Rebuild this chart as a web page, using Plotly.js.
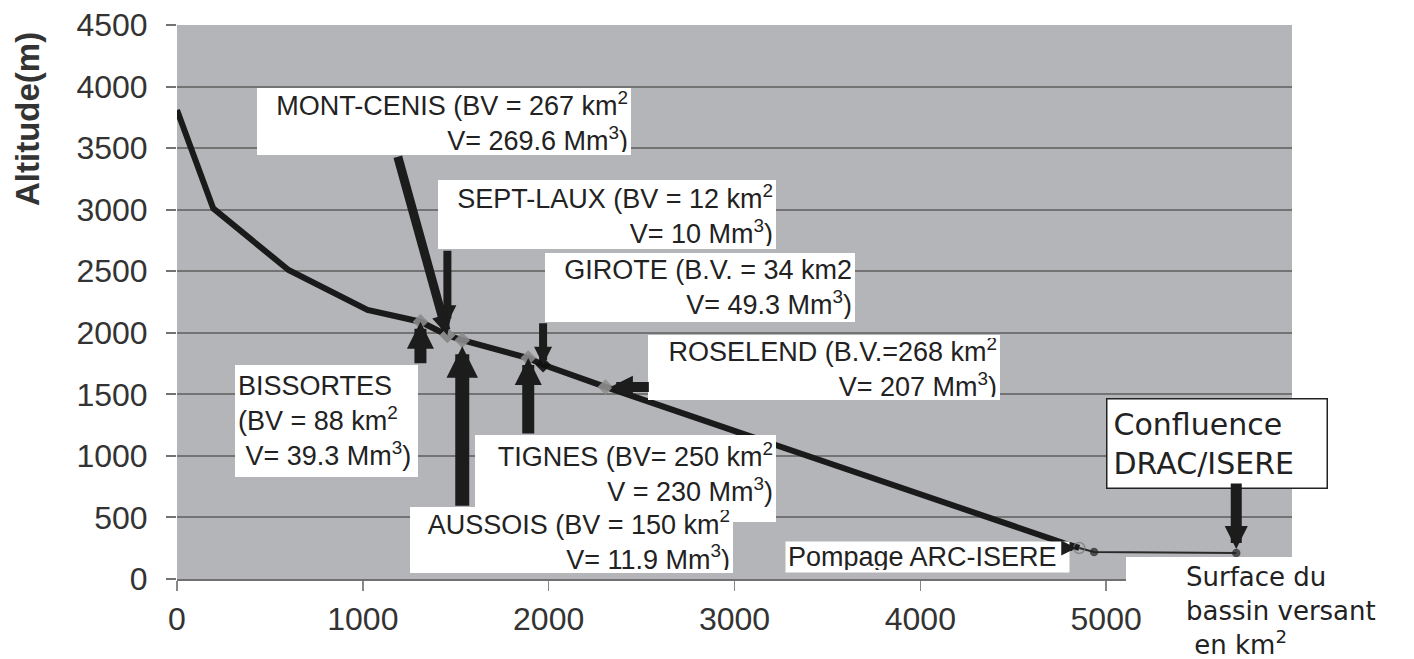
<!DOCTYPE html>
<html>
<head>
<meta charset="utf-8">
<script src="https://cdn.plot.ly/plotly-3.0.1.min.js"></script>
<style>html,body{margin:0;padding:0;background:#fff;}#chart{width:1414px;height:659px;}</style>
</head>
<body>
<div id="chart"></div>
<script>
// ---- data ----
const profileArea = [0, 195, 600, 1025, 1310, 1455, 1535, 1890, 1970, 2305, 4775, 4855];
const profileAlt  = [3810, 3010, 2510, 2185, 2090, 1980, 1940, 1795, 1740, 1560, 290, 252];
const lowerArea = [4855, 4935, 5700];
const lowerAlt  = [252, 219, 211];

const resNames = ['MONT-CENIS', 'SEPT-LAUX', 'GIROTE', 'ROSELEND', 'BISSORTES', 'TIGNES', 'AUSSOIS'];
const resArea  = [1455, 1455, 1970, 2305, 1310, 1890, 1535];
const resAlt   = [1980, 1980, 1740, 1560, 2090, 1795, 1940];
const resBV    = ['267', '12', '34', '268', '88', '250', '150'];
const resVol   = ['269.6', '10', '49.3', '207', '39.3', '230', '11.9'];

const pompageName = 'Pompage ARC-ISERE';
const pompageArea = 4855, pompageAlt = 252;
const confluenceName = 'Confluence<br>DRAC/ISERE';
const confluenceArea = 5700, confluenceAlt = 211;

const xTicks = [0, 1000, 2000, 3000, 4000, 5000];
const yTicks = [0, 500, 1000, 1500, 2000, 2500, 3000, 3500, 4000, 4500];
const yTitle = 'Altitude(m)';
const xTitle = 'Surface du<br>bassin versant<br> en km<sup>2</sup>';

// ---- label formatting ----
const sep     = [' ', ' ', ' ', ' ', '<br>', ' ', ' '];
const bvPre   = ['(BV = ', '(BV = ', '(B.V. = ', '(B.V.=', '(BV = ', '(BV= ', '(BV = '];
const kmSuf   = [' km<sup>2</sup>', ' km<sup>2</sup>', ' km2', ' km<sup>2</sup>', ' km<sup>2</sup>', ' km<sup>2</sup>', ' km<sup>2</sup>'];
const volPre  = ['V= ', 'V= ', 'V= ', 'V= ', ' V= ', 'V = ', 'V= '];
const labels = resNames.map((n, i) => n + sep[i] + bvPre[i] + resBV[i] + kmSuf[i] + '<br>' + volPre[i] + resVol[i] + ' Mm<sup>3</sup>)');

// ---- layout helpers (pixel boxes -> paper) ----
const L = 177, R = 1292, T = 25, B = 579;
const px = v => (v - L) / (R - L);
const py = v => (B - v) / (B - T);
const FONT = 'Liberation Sans, Arial, sans-serif';
const WIDE = 'DejaVu Sans, Verdana, sans-serif';

// box: [left, top, width, height, align, valign]
const boxes = [
  [257, 88, 376, 67, 'right', 'middle'],
  [438, 180, 340, 69, 'right', 'middle'],
  [545, 253, 312, 69, 'right', 'middle'],
  [648, 335, 354, 65, 'right', 'middle'],
  [235, 365, 185, 112, 'left', 'middle'],
  [475, 435, 303, 87, 'right', 'top'],
  [410, 507, 325, 66, 'right', 'middle']
];
// arrows: [ax, ay, width, standoff]
const arrows = [
  [-50, -180, 9, 0],
  [0, -86, 8, 12],
  [0, -43, 8, 0],
  [45, 0, 10, 5],
  [0, 43, 12, 0],
  [0, 77, 12, 0],
  [0, 167, 14, 6]
];

const annotations = [];
resNames.forEach((n, i) => {
  const b = boxes[i];
  annotations.push({
    xref: 'paper', yref: 'paper', x: px(b[0]), y: py(b[1]), xanchor: 'left', yanchor: 'top',
    width: b[2] - 8, height: b[3] - 6, borderpad: 3, bgcolor: '#ffffff', borderwidth: 0,
    align: b[4], valign: b[5], showarrow: false, text: labels[i],
    font: {family: FONT, size: 27, color: '#222222'}
  });
});
resNames.forEach((n, i) => {
  const a = arrows[i];
  annotations.push({
    xref: 'x', yref: 'y', x: resArea[i], y: resAlt[i], ax: a[0], ay: a[1], text: '',
    showarrow: true, arrowhead: 2, arrowsize: 0.45, arrowwidth: a[2], arrowcolor: '#1c1c1c', standoff: a[3]
  });
});
// Pompage
annotations.push({
  xref: 'paper', yref: 'paper', x: px(785), y: py(541), xanchor: 'left', yanchor: 'top',
  width: 279, height: 26, borderpad: 2, bgcolor: '#ffffff', align: 'left', valign: 'middle',
  showarrow: false, text: pompageName, font: {family: FONT, size: 27, color: '#222222'}
});
annotations.push({
  xref: 'x', yref: 'y', x: pompageArea, y: pompageAlt, ax: -10, ay: 0, text: '',
  showarrow: true, arrowhead: 2, arrowsize: 0.5, arrowwidth: 6, arrowcolor: '#1c1c1c', standoff: 3
});
// Confluence
annotations.push({
  xref: 'paper', yref: 'paper', x: px(1106), y: py(398), xanchor: 'left', yanchor: 'top',
  width: 207, height: 76, borderpad: 6, bgcolor: '#ffffff', bordercolor: '#222222', borderwidth: 1.5,
  align: 'left', valign: 'middle', showarrow: false, text: confluenceName,
  font: {family: WIDE, size: 30, color: '#222222'}
});
annotations.push({
  xref: 'x', yref: 'y', x: confluenceArea, y: confluenceAlt, ax: 0, ay: -71, text: '',
  showarrow: true, arrowhead: 2, arrowsize: 0.42, arrowwidth: 11, arrowcolor: '#1c1c1c', standoff: 4
});
// x title
annotations.push({
  xref: 'paper', yref: 'paper', x: px(1184), y: py(560), xanchor: 'left', yanchor: 'top',
  align: 'left', showarrow: false, text: xTitle, font: {family: WIDE, size: 26, color: '#222222'}
});
// y title
annotations.push({
  xref: 'paper', yref: 'paper', x: px(28), y: py(119), xanchor: 'center', yanchor: 'middle',
  textangle: -90, showarrow: false, text: '<b>' + yTitle + '</b>',
  font: {family: FONT, size: 33, color: '#333333'}
});

const traces = [
  {x: profileArea, y: profileAlt, type: 'scatter', mode: 'lines',
   line: {color: '#1a1a1a', width: 6}, hoverinfo: 'skip'},
  {x: lowerArea, y: lowerAlt, type: 'scatter', mode: 'lines+markers',
   line: {color: '#2a2a2a', width: 2},
   marker: {color: ['rgba(0,0,0,0)', '#222222', '#222222'], size: [11, 7, 7],
            line: {color: ['#777777', '#222222', '#222222'], width: 1.5}}, hoverinfo: 'skip'},
  {x: resArea, y: resAlt, type: 'scatter', mode: 'markers',
   marker: {symbol: 'diamond', size: 12, color: ['#8a8a8a', '#8a8a8a', '#111111', '#8e8e8e', '#8a8a8a', '#8a8a8a', '#8a8a8a'], opacity: 0.9},
   hoverinfo: 'skip'}
];

const layout = {
  width: 1414, height: 659,
  margin: {l: L, r: 1414 - R, t: T, b: 659 - B, pad: 0},
  paper_bgcolor: '#ffffff', plot_bgcolor: '#b4b5b9',
  showlegend: false,
  font: {family: FONT, color: '#333333'},
  xaxis: {range: [0, 6000], tickvals: xTicks, ticks: 'outside', ticklen: 10, tickwidth: 1.5, tickcolor: '#888888',
          showgrid: false, zeroline: false, showline: true, linecolor: '#707070', linewidth: 2,
          tickfont: {family: FONT, size: 32, color: '#333333'}, ticklabelstandoff: 1, fixedrange: true},
  yaxis: {range: [0, 4500], tickvals: yTicks, ticks: 'outside', ticklen: 10, tickwidth: 2, tickcolor: '#737373',
          showgrid: true, gridcolor: '#737373', gridwidth: 2, zeroline: false, showline: false,
          tickfont: {family: FONT, size: 32, color: '#333333'}, ticklabelstandoff: 12, fixedrange: true},
  shapes: [
    {type: 'rect', xref: 'paper', yref: 'paper', x0: px(1126), x1: px(1414), y0: py(596), y1: py(557),
     fillcolor: '#ffffff', line: {width: 0}, layer: 'above'}
  ],
  annotations: annotations
};

Plotly.newPlot('chart', traces, layout, {staticPlot: true, displayModeBar: false});
</script>
</body>
</html>
